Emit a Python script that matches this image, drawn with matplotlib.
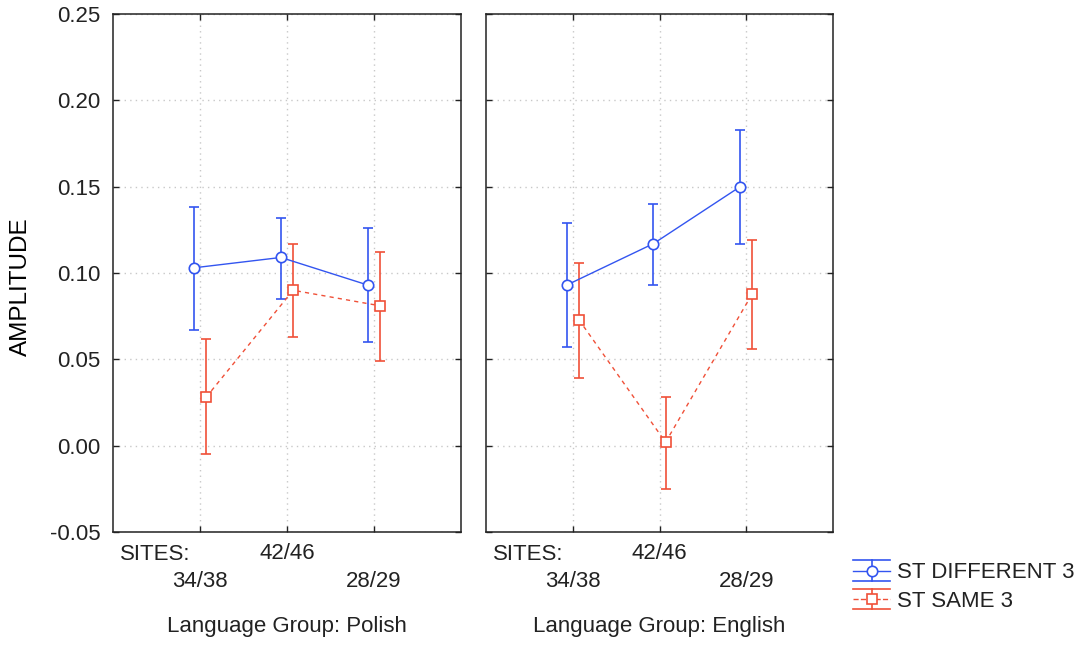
import numpy as np
import matplotlib
matplotlib.use("Agg")
import matplotlib.pyplot as plt
from matplotlib.lines import Line2D
from matplotlib.container import ErrorbarContainer
from matplotlib.legend_handler import HandlerBase
from matplotlib.transforms import blended_transform_factory

plt.rcParams['font.family'] = ['Liberation Sans', 'DejaVu Sans']
plt.rcParams['axes.unicode_minus'] = False

sites = ['34/38', '42/46', '28/29']
groups = ['Polish', 'English']

# means and confidence limits
diff_mean = [[0.103, 0.109, 0.093], [0.093, 0.117, 0.150]]
diff_low = [[0.067, 0.085, 0.060], [0.057, 0.093, 0.117]]
diff_high = [[0.138, 0.132, 0.126], [0.129, 0.140, 0.183]]

same_mean = [[0.028, 0.090, 0.081], [0.073, 0.002, 0.088]]
same_low = [[-0.005, 0.063, 0.049], [0.039, -0.025, 0.056]]
same_high = [[0.062, 0.117, 0.112], [0.106, 0.028, 0.119]]

yticks = [-0.05, 0.00, 0.05, 0.10, 0.15, 0.20, 0.25]

blue = '#3355f0'
red = '#f05038'
fs = 16


class ErrHandler(HandlerBase):
    # legend key like the original: long caps top and bottom, bar, line, marker
    def create_artists(self, legend, orig_handle, xdescent, ydescent, width, height, fontsize, trans):
        ln = orig_handle.lines[0]
        c = ln.get_color()
        cy = height / 2 - ydescent
        h = 7.5
        x0, x1 = -xdescent, width - xdescent
        xm = (x0 + x1) / 2
        arts = [
            Line2D([x0, x1], [cy + h, cy + h], color=c, lw=1.2),
            Line2D([x0, x1], [cy - h, cy - h], color=c, lw=1.2),
            Line2D([xm, xm], [cy - h, cy + h], color=c, lw=1.2),
            Line2D([x0, x1], [cy, cy], color=c, lw=1.0, ls=ln.get_linestyle()),
            Line2D([xm], [cy], color=c, marker=ln.get_marker(), ms=7.5, mfc='white', mec=c, mew=1.2, ls='none'),
        ]
        for a in arts:
            a.set_transform(trans)
        return arts


fig = plt.figure(figsize=(10.83, 6.45), dpi=100)
W, H = 1083, 645
ax1 = fig.add_axes([113 / W, 1 - 532 / H, 348 / W, 518 / H])
ax2 = fig.add_axes([486 / W, 1 - 532 / H, 347 / W, 518 / H])

x = np.arange(1, len(sites) + 1)
for i, ax in enumerate([ax1, ax2]):
    m = np.array(diff_mean[i])
    eb1 = ax.errorbar(x - 0.07, m, yerr=[m - np.array(diff_low[i]), np.array(diff_high[i]) - m],
                      color=blue, lw=1.0, marker='o', ms=7.5, mfc='white', mec=blue, mew=1.2,
                      capsize=3.8, capthick=1.2, elinewidth=1.2, zorder=3)
    s = np.array(same_mean[i])
    eb2 = ax.errorbar(x + 0.07, s, yerr=[s - np.array(same_low[i]), np.array(same_high[i]) - s],
                      color=red, lw=1.0, ls=(0, (3, 3)), marker='s', ms=7.5, mfc='white', mec=red,
                      mew=1.2, capsize=3.8, capthick=1.2, elinewidth=1.2, zorder=3)
    ax.set_xlim(0, 4)
    ax.set_ylim(-0.05, 0.25)
    ax.set_xticks(x)
    ax.set_xticklabels(sites, fontsize=fs)
    ax.set_yticks(yticks)
    if i == 0:
        ax.set_yticklabels(['%.2f' % v for v in yticks], fontsize=fs)
        ax.set_ylabel('AMPLITUDE', fontsize=17.5)
        ax.yaxis.set_label_coords(-0.232, 0.474)
    else:
        ax.set_yticklabels([])
    ax.tick_params(direction='in', length=4, width=1, right=True, top=True, pad=8, colors='#222222')
    ax.tick_params(axis='y', pad=9)
    # staggered site labels: first and last sit one row lower
    xt = ax.xaxis.get_major_ticks()
    xt[0].set_pad(28)
    xt[2].set_pad(28)
    ax.grid(True, color='#c8c8c8', ls=(0, (1, 3)), lw=1.0)
    ax.set_axisbelow(True)
    for sp in ax.spines.values():
        sp.set_linewidth(1.1)
        sp.set_color('#222222')
    tr = blended_transform_factory(ax.transData, ax.transAxes)
    ax.text(0.08, -0.043, 'SITES:', transform=tr, ha='left', va='center', fontsize=fs, color='#222222')
    ax.set_xlabel('Language Group: ' + groups[i], fontsize=fs, color='#222222')
    ax.xaxis.set_label_coords(0.5, -0.163)

leg = fig.legend(handles=[eb1, eb2], labels=['ST DIFFERENT 3', 'ST SAME 3'], loc='upper left',
                 bbox_to_anchor=(853 / W, 1 - 561 / H), frameon=False, fontsize=fs,
                 handler_map={ErrorbarContainer: ErrHandler()},
                 handlelength=1.67, handleheight=0.95, handletextpad=0.32,
                 borderaxespad=0, borderpad=0, labelspacing=0.28)
for t in leg.get_texts():
    t.set_color('#222222')

fig.savefig('out.png', dpi=100)
